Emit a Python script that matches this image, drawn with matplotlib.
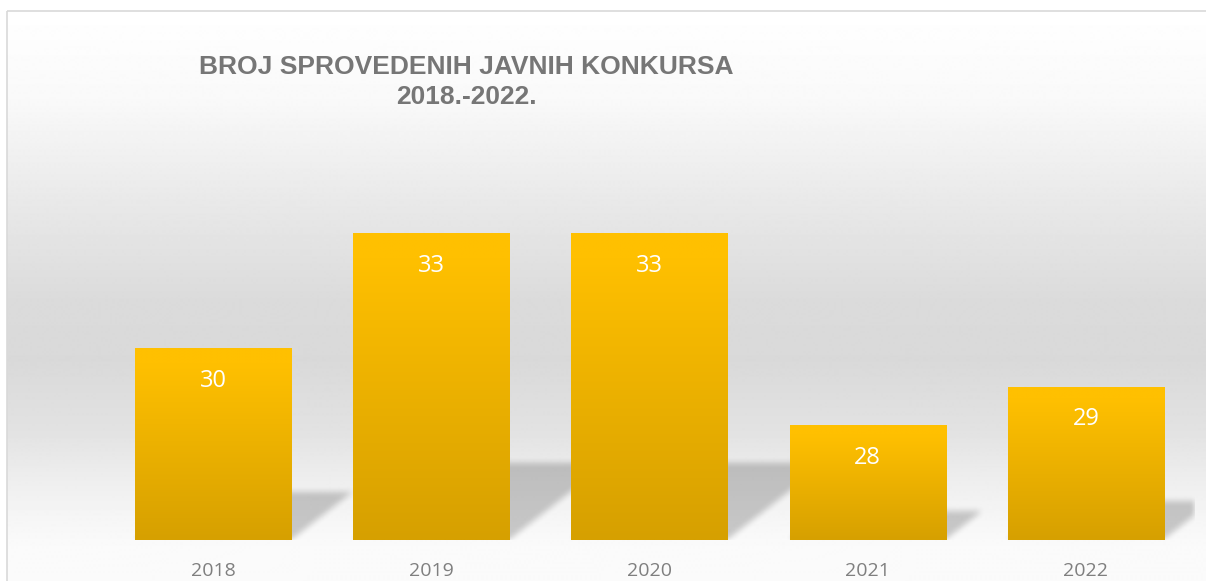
import numpy as np
import matplotlib
matplotlib.use("Agg")
import matplotlib.pyplot as plt
from matplotlib.patches import Rectangle

# data
years = ["2018", "2019", "2020", "2021", "2022"]
counts = [30, 33, 33, 28, 29]
title = "BROJ SPROVEDENIH JAVNIH KONKURSA\n2018.-2022."

W, H = 1206, 581
fig = plt.figure(figsize=(W / 100, H / 100), dpi=100)

# background panel with vertical grey gradient
bg = fig.add_axes([0, 0, 1, 1], zorder=0)
bg.set_xlim(0, W)
bg.set_ylim(H, 0)
bg.axis("off")
stops_y = [11, 100, 200, 300, 360, 430, 480, 520, 545, 581]
stops_v = [255, 249, 233, 219, 217, 226, 238, 246, 250, 251]
yy = np.arange(11, H + 1)
g = np.interp(yy, stops_y, stops_v) / 255.0
grad = np.repeat(g[:, None], 2, axis=1)
bg.imshow(grad, cmap="gray", vmin=0, vmax=1, aspect="auto",
          extent=(7, W + 5, H, 11), interpolation="bilinear")
bg.add_patch(Rectangle((7, 11), W, H, fill=False, edgecolor="#d9d9d9", lw=1.2))

# main axes
ax = fig.add_axes([104 / W, 41 / H, 1091 / W, 383.3 / H], zorder=1)
ax.patch.set_alpha(0)
ax.set_xlim(-0.5, 4.5)
ax.set_ylim(25, 35)
x = np.arange(len(years))
bw = 0.715

# soft floor shadows behind the bars
nx, ny = 1091, 383
xs = np.linspace(-0.5, 4.5, nx)
ys = np.linspace(25, 35, ny)
X, Y = np.meshgrid(xs, ys)
mask = np.zeros_like(X)
for xi, v in zip(x, counts):
    sy = 0.25 * (v - 25)
    sx = 0.225 * sy
    t = (Y - 25) / sy
    inside = (t >= 0) & (t <= 1) & (X >= xi - bw / 2 + t * sx) & (X <= xi + bw / 2 + t * sx)
    mask = np.maximum(mask, inside.astype(float))


def box_blur(a, k, axis):
    ker = np.ones(k) / k
    return np.apply_along_axis(lambda r: np.convolve(r, ker, mode="same"), axis, a)


for _ in range(2):
    mask = box_blur(mask, 7, 0)
    mask = box_blur(mask, 7, 1)
rgba = np.zeros((ny, nx, 4))
rgba[..., 3] = 0.2 * mask
ax.imshow(rgba, extent=(-0.5, 4.5, 25, 35), origin="lower", aspect="auto",
          zorder=1, interpolation="bilinear")

# bars with vertical gold gradient
bars = ax.bar(x, [v - 25 for v in counts], bottom=25, width=bw, color="none",
              edgecolor="none", zorder=2)
top_c = np.array([255, 192, 0]) / 255
bot_c = np.array([214, 160, 0]) / 255
tt = np.linspace(0, 1, 256)[:, None]
tt = np.clip((tt - 0.08) / 0.92, 0, 1)
bar_grad = (top_c * (1 - tt) + bot_c * tt)[:, None, :]
for b, xi, v in zip(bars, x, counts):
    im = ax.imshow(bar_grad, extent=(xi - bw / 2, xi + bw / 2, 25, v), origin="upper",
                   aspect="auto", zorder=3, interpolation="bilinear")
    im.set_clip_path(b)
    ax.text(xi, v - 0.85, str(v), ha="center", va="center", color="white",
            fontsize=17, family="Open Sans", zorder=4)

ax.set_xticks(x)
ax.set_xticklabels(years, fontsize=14, color="#7f7f7f", family="Open Sans")
ax.tick_params(axis="x", length=0, pad=16)
ax.set_yticks([])
for s in ax.spines.values():
    s.set_visible(False)

ax.set_xlim(-0.5, 4.5)
ax.set_ylim(25, 35)

fig.text(466 / W, 1 - 82 / H, title, ha="center", va="center", fontsize=19,
         fontweight="bold", color="#767676", family="Liberation Sans",
         linespacing=1.3)

fig.savefig("out.png", dpi=100)
